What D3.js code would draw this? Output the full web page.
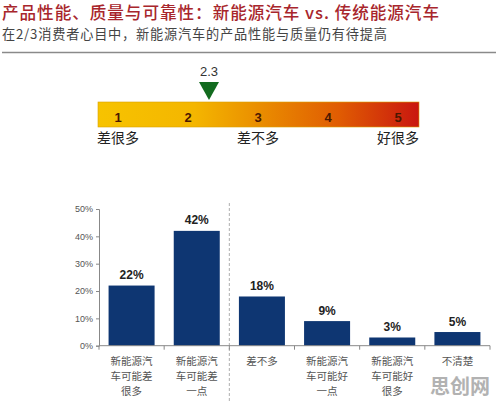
<!DOCTYPE html>
<html><head><meta charset="utf-8">
<script src="https://cdn.jsdelivr.net/npm/d3@7"></script>
<style>
html,body{margin:0;padding:0;background:#fff;}
svg{display:block;}
</style></head>
<body>
<svg id="c" width="496" height="401"></svg>
<script>
// ---- data ----
const titleText = "产品性能、质量与可靠性：新能源汽车 vs. 传统能源汽车";
const subtitleText = "在2/3消费者心目中，新能源汽车的产品性能与质量仍有待提高";
const gaugeNumbers = [1, 2, 3, 4, 5];
const gaugeScore = 2.3;
const gaugeLabels = ["差很多", "差不多", "好很多"];
const gaugeLabelValues = [1, 3, 5];
const categories = ["c1", "c2", "c3", "c4", "c5", "c6"];
const categoryLines = [
  ["新能源汽", "车可能差", "很多"],
  ["新能源汽", "车可能差", "一点"],
  ["差不多"],
  ["新能源汽", "车可能好", "一点"],
  ["新能源汽", "车可能好", "很多"],
  ["不清楚"]
];
const values = [0.22, 0.42, 0.18, 0.09, 0.03, 0.05];
const yTicks = [0, 0.1, 0.2, 0.3, 0.4, 0.5];

const svg = d3.select("#c");
const CJK = "'Noto Sans CJK SC','Noto Sans',sans-serif";
const LAT = "'Liberation Sans',Arial,sans-serif";

// ---- header ----
svg.append("text").attr("x", 2).attr("y", 19.4)
  .attr("font-family", CJK).attr("font-size", 16.6).attr("font-weight", 500)
  .attr("textLength", 437).attr("lengthAdjust", "spacing")
  .attr("fill", "#a8262c").text(titleText);
svg.append("text").attr("x", 2).attr("y", 39.4)
  .attr("font-family", CJK).attr("font-size", 13.2)
  .attr("textLength", 385).attr("lengthAdjust", "spacing")
  .attr("fill", "#444").text(subtitleText);
svg.append("line").attr("x1", 2).attr("x2", 496).attr("y1", 52.5).attr("y2", 52.5)
  .attr("stroke", "#8a8a8a").attr("stroke-width", 1.5);

// ---- gauge ----
const gx = d3.scaleLinear().domain([1, 5]).range([118, 398]);
const defs = svg.append("defs");
const grad = defs.append("linearGradient").attr("id", "g1").attr("x1", "0%").attr("x2", "100%");
[["0%", "#f7c300"], ["30%", "#f4b600"], ["50%", "#ea8e00"], ["75%", "#e05c02"], ["100%", "#c9170f"]]
  .forEach(s => grad.append("stop").attr("offset", s[0]).attr("stop-color", s[1]));
svg.append("rect").attr("x", 98).attr("y", 102).attr("width", 321).attr("height", 25)
  .attr("fill", "url(#g1)").attr("stroke", "#d9a200").attr("stroke-width", 0.6);
svg.selectAll(".gn").data(gaugeNumbers).join("text")
  .attr("x", d => gx(d)).attr("y", 122).attr("text-anchor", "middle")
  .attr("font-family", LAT).attr("font-size", 13).attr("font-weight", "bold")
  .attr("fill", "#4a1800").text(d => d);
const tx = gx(gaugeScore);
svg.append("path")
  .attr("d", `M${tx - 10},82 L${tx + 10},82 L${tx},100 Z`)
  .attr("fill", "#126b1f");
svg.append("text").attr("x", tx).attr("y", 76).attr("text-anchor", "middle")
  .attr("font-family", LAT).attr("font-size", 13).attr("fill", "#333").text(gaugeScore);
svg.selectAll(".gl").data(gaugeLabels).join("text")
  .attr("x", (d, i) => i === 0 ? 97 : i === 2 ? 419 : gx(gaugeLabelValues[i]))
  .attr("y", 143)
  .attr("text-anchor", (d, i) => i === 0 ? "start" : i === 2 ? "end" : "middle")
  .attr("font-family", CJK).attr("font-size", 14).attr("fill", "#222").text(d => d);

// ---- bar chart ----
const x = d3.scaleBand().domain(categories).range([99, 490]).paddingInner(0.294).paddingOuter(0.147);
const y = d3.scaleLinear().domain([0, 0.5]).range([345.7, 209]);

// dashed divider
const divX = x("c3") - x.step() * x.paddingInner() / 2;
svg.append("line").attr("x1", divX).attr("x2", divX).attr("y1", 203).attr("y2", 401)
  .attr("stroke", "#999").attr("stroke-width", 0.8).attr("stroke-dasharray", "3,2");

svg.selectAll(".bar").data(values).join("rect")
  .attr("x", (d, i) => x(categories[i])).attr("y", d => y(d))
  .attr("width", x.bandwidth()).attr("height", d => y(0) - y(d))
  .attr("fill", "#0e3672");

svg.selectAll(".vl").data(values).join("text")
  .attr("x", (d, i) => x(categories[i]) + x.bandwidth() / 2)
  .attr("y", d => y(d) - 6.5).attr("text-anchor", "middle")
  .attr("font-family", LAT).attr("font-size", 12).attr("font-weight", "bold")
  .attr("fill", "#222").text(d => Math.round(d * 100) + "%");

// y axis
const yAxis = svg.append("g").attr("transform", "translate(99,0)")
  .call(d3.axisLeft(y).tickValues(yTicks).tickFormat(d3.format(".0%")).tickSize(3).tickPadding(3));
yAxis.select(".domain").attr("stroke", "#888");
yAxis.selectAll(".tick line").attr("stroke", "#888");
yAxis.selectAll("text").attr("font-family", LAT).attr("font-size", 9).attr("fill", "#555");

// x axis line & boundary ticks
svg.append("line").attr("x1", 99).attr("x2", 490).attr("y1", y(0)).attr("y2", y(0))
  .attr("stroke", "#888").attr("stroke-width", 1);
const bounds = categories.map(c => x(c) - x.step() * x.paddingInner() / 2).concat([490]);
svg.selectAll(".xt").data(bounds).join("line")
  .attr("x1", d => d).attr("x2", d => d).attr("y1", y(0)).attr("y2", y(0) + 4)
  .attr("stroke", "#888");

// category labels
categories.forEach((c, i) => {
  const cx = x(c) + x.bandwidth() / 2;
  categoryLines[i].forEach((ln, j) => {
    svg.append("text").attr("text-anchor", "middle")
      .attr("font-family", CJK).attr("font-size", 10.5).attr("fill", "#555")
      .attr("x", cx).attr("y", 364.5 + j * 15.3).text(ln);
  });
});

// watermark
svg.append("text").attr("x", 460).attr("y", 394).attr("text-anchor", "middle")
  .attr("font-family", CJK).attr("font-size", 20).attr("font-weight", "bold")
  .attr("fill", "#a5a5a5").attr("opacity", 0.85).text("思创网");
</script>
</body></html>
